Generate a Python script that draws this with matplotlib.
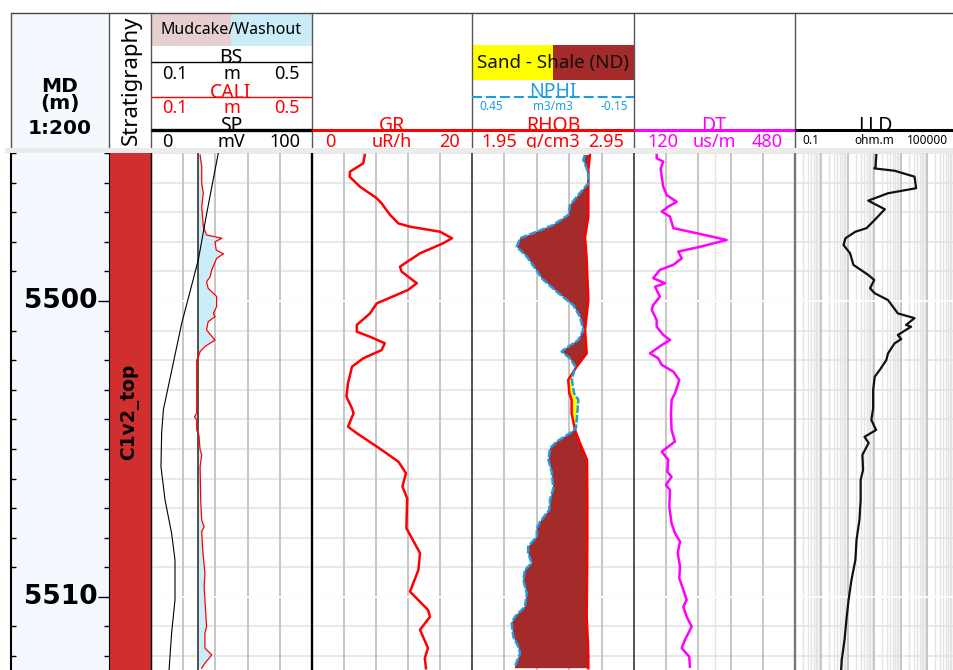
import numpy as np
import matplotlib.pyplot as plt
from matplotlib.patches import Rectangle

depth_top, depth_base = 5495.0, 5512.47
md_labels = [5500, 5510]
zone_name = "C1v2_top"
bit_size = 0.2159  # m (8.5 in)

cali_depth = [5495.07, 5495.46, 5496.02, 5496.36, 5496.81, 5497.49, 5497.77, 5497.88, 5498.00, 5498.28,
              5498.41, 5498.56, 5498.95, 5499.18, 5499.35, 5499.57, 5499.85, 5500.19, 5500.42, 5500.53,
              5500.70, 5500.98, 5501.32, 5501.54, 5501.71, 5501.88, 5502.00, 5503.79, 5503.91, 5504.02,
              5504.36, 5504.53, 5505.03, 5505.20, 5505.60, 5506.72, 5507.40, 5507.63, 5507.79, 5508.41,
              5509.20, 5509.65, 5510.10, 5511.00, 5511.23, 5511.73, 5511.96, 5512.24, 5512.41]
cali = [0.222, 0.226, 0.226, 0.230, 0.226, 0.230, 0.238, 0.276, 0.259, 0.262,
        0.280, 0.263, 0.251, 0.247, 0.238, 0.242, 0.263, 0.263, 0.255, 0.259,
        0.242, 0.238, 0.259, 0.234, 0.222, 0.218, 0.2135, 0.2135, 0.208, 0.2135,
        0.2135, 0.219, 0.222, 0.226, 0.222, 0.2235, 0.226, 0.232, 0.226, 0.2285,
        0.234, 0.232, 0.234, 0.238, 0.234, 0.234, 0.251, 0.234, 0.226]

sp_depth = [5495.0, 5497.04, 5498.61, 5500.75, 5503.67, 5504.47, 5505.60, 5506.72, 5507.85, 5508.75,
            5510.10, 5511.23, 5512.47]
sp = [41.8, 34.6, 29.4, 19.1, 7.7, 6.6, 6.2, 8.7, 12.8, 14.9, 14.9, 12.8, 11.2]

gr_depth = [5495.07, 5495.35, 5495.63, 5495.80, 5496.14, 5496.53, 5496.70, 5497.09, 5497.38, 5497.49,
            5497.66, 5497.88, 5498.05, 5498.39, 5498.84, 5499.01, 5499.40, 5499.63, 5500.08, 5500.42,
            5500.81, 5501.04, 5501.21, 5501.43, 5501.66, 5501.94, 5502.22, 5502.78, 5503.23, 5503.63,
            5503.79, 5504.25, 5504.47, 5504.92, 5505.43, 5505.82, 5506.27, 5506.67, 5507.68, 5508.52,
            5509.09, 5509.82, 5510.44, 5510.67, 5511.11, 5511.73, 5512.07, 5512.41]
gr = [6.6, 6.4, 4.75, 4.7, 6.0, 8.1, 8.7, 9.75, 10.8, 12.25,
      16.0, 17.5, 16.4, 13.5, 11.0, 11.2, 13.1, 12.0, 8.1, 7.25,
      5.6, 5.6, 7.25, 9.1, 8.7, 6.4, 5.0, 4.5, 4.3, 5.0,
      5.2, 4.5, 5.6, 8.1, 10.8, 11.75, 11.3, 11.9, 11.8, 13.5,
      13.3, 12.25, 14.5, 14.75, 13.5, 14.5, 14.1, 14.25]

rhob_depth = [5495.07, 5495.57, 5496.02, 5497.15, 5497.83, 5498.61, 5499.97, 5500.98, 5501.77, 5502.22,
              5502.67, 5503.12, 5503.34, 5503.79, 5504.36, 5504.81, 5505.37, 5506.72, 5508.00, 5509.50,
              5510.67, 5511.50, 5512.02, 5512.41]
rhob = [2.678, 2.668, 2.668, 2.668, 2.648, 2.658, 2.668, 2.648, 2.658, 2.596,
        2.544, 2.551, 2.565, 2.565, 2.586, 2.617, 2.660, 2.662, 2.662, 2.660,
        2.658, 2.665, 2.668, 2.668]

nphi_depth = [5495.07, 5495.24, 5495.46, 5495.69, 5496.02, 5496.48, 5496.76, 5497.09, 5497.43, 5497.66,
              5497.88, 5498.17, 5498.50, 5499.06, 5499.23, 5499.69, 5500.14, 5500.53, 5500.98, 5501.32,
              5501.66, 5501.71, 5501.94, 5502.20, 5502.67, 5503.12, 5503.34, 5503.79, 5504.30, 5504.47,
              5504.75, 5504.98, 5505.37, 5505.77, 5506.33, 5506.72, 5507.06, 5507.46, 5507.68, 5507.96,
              5508.30, 5508.52, 5508.86, 5509.09, 5509.43, 5509.88, 5510.33, 5510.67, 5510.89, 5511.34,
              5511.68, 5511.90, 5512.36]
nphi = [0.032, 0.038, 0.028, 0.019, 0.019, 0.062, 0.087, 0.093, 0.149, 0.210,
        0.272, 0.284, 0.247, 0.204, 0.192, 0.136, 0.075, 0.050, 0.038, 0.056,
        0.112, 0.118, 0.087, 0.068, 0.080, 0.072, 0.056, 0.060, 0.065, 0.087,
        0.136, 0.161, 0.167, 0.155, 0.149, 0.161, 0.164, 0.198, 0.210, 0.210,
        0.242, 0.242, 0.229, 0.254, 0.260, 0.247, 0.254, 0.291, 0.303, 0.297,
        0.279, 0.272, 0.291]

dt_depth = [5495.07, 5495.18, 5495.29, 5495.52, 5495.80, 5496.14, 5496.42, 5496.65, 5496.81, 5496.98,
            5497.15, 5497.54, 5497.71, 5497.94, 5498.17, 5498.33, 5498.56, 5498.78, 5498.95, 5499.23,
            5499.40, 5499.52, 5499.85, 5500.14, 5500.30, 5500.64, 5500.87, 5501.15, 5501.32, 5501.49,
            5501.77, 5501.94, 5502.16, 5502.39, 5502.67, 5503.12, 5503.34, 5503.79, 5504.36, 5504.75,
            5505.09, 5505.37, 5505.77, 5505.94, 5506.22, 5506.39, 5506.95, 5507.51, 5507.85, 5508.13,
            5508.52, 5508.98, 5509.37, 5509.76, 5510.10, 5510.33, 5510.67, 5511.00, 5511.45, 5511.73,
            5512.02, 5512.36]
dt = [170.7, 170.7, 185.5, 179.7, 181.9, 185.5, 193.0, 215.5, 196.7, 182.0,
      200.5, 208.0, 260.0, 327.0, 267.6, 219.0, 226.7, 208.0, 178.0, 163.0,
      189.3, 167.0, 178.0, 163.0, 159.6, 170.7, 170.7, 185.5, 200.5, 182.0,
      155.8, 174.3, 182.0, 208.0, 221.3, 211.7, 204.2, 202.7, 204.0, 211.7,
      182.0, 196.7, 194.5, 204.0, 191.5, 200.5, 199.0, 204.0, 211.7, 222.9,
      217.7, 222.9, 221.3, 230.3, 237.8, 230.3, 237.8, 249.0, 234.0, 226.7,
      243.6, 245.0]

lld_depth = [5495.07, 5495.46, 5495.52, 5495.60, 5495.80, 5496.19, 5496.36, 5496.61, 5496.90, 5497.26,
             5497.54, 5497.66, 5497.88, 5498.11, 5498.39, 5498.78, 5499.12, 5499.29, 5499.57, 5499.74,
             5499.97, 5500.42, 5500.58, 5500.81, 5500.87, 5501.15, 5501.29, 5501.43, 5501.77, 5501.99,
             5502.33, 5502.56, 5503.01, 5503.63, 5504.02, 5504.36, 5504.59, 5504.80, 5505.20, 5505.71,
             5506.05, 5506.72, 5507.40, 5508.07, 5508.75, 5509.43, 5510.10, 5510.78, 5511.45, 5512.13,
             5512.47]
lld = [117, 110, 98, 575, 3240, 3715, 324, 58, 245, 102,
       50, 19, 8, 6.8, 12, 16, 58, 98, 68, 102,
       324, 760, 3240, 1550, 2400, 760, 1020, 575, 324, 282,
       158, 102, 89, 89, 76, 115, 42, 60, 35, 37,
       30, 30, 27, 21, 19, 13.5, 10.5, 8.7, 7.4, 5.8,
       5.5]

# ---------------- layout (pixels) ----------------
W, H = 954, 670
BODY_TOP = 153
plt.rcParams['font.family'] = ['Noto Sans', 'DejaVu Sans']
fig = plt.figure(figsize=(W / 100, H / 100), dpi=100)

RED, MAG, BLUE = '#ff0000', '#ff00ff', '#1e9de6'
BROWN, YELLOW = '#a52a2a', '#ffff00'
PINK, WASH = '#e8cfcf', '#cbedf9'
MD_BG = '#f5f9ff'


def box(x0, x1, y0, y1):
    return [x0 / W, 1 - y1 / H, (x1 - x0) / W, (y1 - y0) / H]


grid_depths = np.arange(np.ceil(depth_top), depth_base)


def track(x0, x1, xlim, grid, border='k', bw=1.0, log=False, light=()):
    ax = fig.add_axes(box(x0, x1, BODY_TOP, H))
    ax.patch.set_visible(False)
    if log:
        ax.set_xscale('log')
    ax.set_xlim(*xlim)
    ax.set_ylim(depth_base, depth_top)
    for s in ('top', 'bottom', 'right'):
        ax.spines[s].set_visible(False)
    ax.spines['left'].set_color(border)
    ax.spines['left'].set_linewidth(bw)
    ax.tick_params(which='both', left=False, bottom=False, labelleft=False, labelbottom=False)
    for d in grid_depths:
        ax.axhline(d, color='#e6e6e6', lw=1.3, zorder=0.3)
    for g in light:
        ax.axvline(g, color='#e4e4e4', lw=1.0, zorder=0.4)
    for g in grid:
        ax.axvline(g, color='#c6c6c6', lw=1.4, zorder=0.5)
    for d in md_labels:
        ax.axhline(d, color='white', lw=1.3, zorder=0.6)
    return ax


# depth column
md = fig.add_axes(box(11, 109, BODY_TOP, H))
md.set_facecolor(MD_BG)
md.set_xlim(0, 1)
md.set_ylim(depth_base, depth_top)
md.set_xticks([])
md.set_yticks(md_labels)
md.set_yticks(grid_depths, minor=True)
md.tick_params(axis='y', which='major', left=False, right=True, direction='in',
               length=8, width=1, labelleft=False)
md.tick_params(axis='y', which='minor', left=True, right=True, direction='in', length=3.6, width=1)
for s in ('top', 'bottom', 'right'):
    md.spines[s].set_visible(False)
md.spines['left'].set_linewidth(1.5)
for d in md_labels:
    md.text(0.88, d, str(d), transform=md.get_yaxis_transform(), ha='right', va='center',
            fontsize=19, fontweight='bold', family='DejaVu Sans')

# stratigraphy column
st = fig.add_axes(box(109, 151, BODY_TOP, H))
st.set_xlim(0, 1)
st.set_ylim(depth_base, depth_top)
st.axhspan(depth_top, depth_base, color='#d12f2f', zorder=0)
st.set_xticks([])
st.set_yticks([])
for s in ('top', 'bottom'):
    st.spines[s].set_visible(False)
st.text(0.5, (depth_top + depth_base) / 2, zone_name, rotation=90, ha='center', va='center',
        fontsize=13.5, fontweight='bold', family='DejaVu Sans')

# caliper / SP
t1 = track(151, 312, (0.1, 0.5), [0.18, 0.26, 0.34, 0.42])
cd = np.array(cali_depth)
cv = np.array(cali)
t1.fill_betweenx(cd, bit_size, cv, where=cv >= bit_size, color=WASH, interpolate=True, lw=0, zorder=1)
t1.fill_betweenx(cd, bit_size, cv, where=cv < bit_size, color=PINK, interpolate=True, lw=0, zorder=1)
t1.plot([bit_size, bit_size], [depth_top, depth_base], color='#444444', lw=1.3, zorder=2)
t1.plot(cali, cali_depth, color=RED, lw=0.9, zorder=3)
spx = t1.twiny()
spx.set_xlim(0, 100)
spx.axis('off')
spx.plot(sp, sp_depth, color='k', lw=0.8)

# gamma ray
t2 = track(312, 472, (0, 20), [4, 8, 12, 16], bw=1.7)
t2.plot(gr, gr_depth, color=RED, lw=1.8)

# density / neutron
t3 = track(472, 634, (1.95, 2.95), [2.15, 2.35, 2.55, 2.75], border='#333333', bw=1.2)
dd = np.unique(np.concatenate([rhob_depth, nphi_depth]))
rh = np.interp(dd, rhob_depth, rhob)
nphi_on_rhob = 1.95 + (0.45 - np.interp(dd, nphi_depth, nphi)) / 0.6 * 1.0
t3.fill_betweenx(dd, nphi_on_rhob, rh, where=nphi_on_rhob <= rh, color=BROWN, interpolate=True, lw=0, zorder=1)
t3.fill_betweenx(dd, nphi_on_rhob, rh, where=nphi_on_rhob > rh, color=YELLOW, interpolate=True, lw=0, zorder=1)
t3.plot(rhob, rhob_depth, color=RED, lw=1.8, zorder=3)
nx = t3.twiny()
nx.set_xlim(0.45, -0.15)
nx.axis('off')
nx.plot(nphi, nphi_depth, color=BLUE, lw=1.8, dashes=(3, 0.8))

# sonic
t4 = track(634, 795, (120, 480), [192, 264, 336, 408], border='#333333', bw=1.2, light=[300])
t4.plot(dt, dt_depth, color=MAG, lw=1.8)

# resistivity
decades = [1, 10, 100, 1000, 10000]
minors = [k * 10.0 ** e for e in range(-1, 5) for k in range(2, 10)]
t5 = track(795, 954, (0.1, 1e5), decades, border='#777777', bw=1.7, log=True, light=minors)
t5.plot(lld, lld_depth, color='#111111', lw=1.6)

# ---------------- header ----------------
hd = fig.add_axes([0, 1 - BODY_TOP / H, 1, BODY_TOP / H])
hd.set_xlim(0, W)
hd.set_ylim(BODY_TOP, 0)
hd.axis('off')


def rect(x0, y0, x1, y1, color, z=0):
    hd.add_patch(Rectangle((x0, y0), x1 - x0, y1 - y0, facecolor=color, edgecolor='none', zorder=z))


def hline(y, x0, x1, **kw):
    hd.plot([x0, x1], [y, y], solid_capstyle='butt', **kw)


def scale_row(x0, x1, y, lo, unit, hi, color, fs, il, ir):
    hd.text(x0 + il, y, lo, ha='left', va='baseline', color=color, fontsize=fs)
    hd.text((x0 + x1) / 2, y, unit, ha='center', va='baseline', color=color, fontsize=fs)
    hd.text(x1 - ir, y, hi, ha='right', va='baseline', color=color, fontsize=fs)


rect(11, 13, 109, 148, MD_BG)
rect(5, 148, W, BODY_TOP, '#ebebeb', z=5)
hline(13, 11, W, color='#444444', lw=1)
for x in (11, 109, 151, 312, 472, 634, 795):
    hd.plot([x, x], [13, 148], color='#555555', lw=1)

hd.text(60, 87, 'MD', ha='center', va='center', fontsize=14.5, fontweight='bold', family='DejaVu Sans')
hd.text(60, 104, '(m)', ha='center', va='center', fontsize=14.5, fontweight='bold', family='DejaVu Sans')
hd.text(60, 129, '1:200', ha='center', va='center', fontsize=14.5, fontweight='bold', family='DejaVu Sans')
hd.text(131, 80, 'Stratigraphy', rotation=90, ha='center', va='center', fontsize=16)

# caliper header
rect(151, 13, 231, 46, PINK)
rect(231, 13, 312, 46, WASH)
hd.text(231, 30, 'Mudcake/Washout', ha='center', va='center', fontsize=11.5)
NAME_FS, SCALE_FS = 14, 13
hd.text(231, 63, 'BS', ha='center', va='baseline', fontsize=NAME_FS)
hline(62, 151, 312, color='k', lw=1)
scale_row(151, 312, 79, '0.1', 'm', '0.5', 'k', SCALE_FS, 11, 12)
hd.text(231, 98, 'CALI', ha='center', va='baseline', fontsize=NAME_FS, color=RED)
hline(97, 151, 312, color=RED, lw=1)
scale_row(151, 312, 113, '0.1', 'm', '0.5', RED, SCALE_FS, 11, 12)
hd.text(231, 131, 'SP', ha='center', va='baseline', fontsize=NAME_FS)
hline(130, 151, 312, color='k', lw=2.4)
scale_row(151, 312, 147, '0', 'mV', '100', 'k', SCALE_FS, 11, 12)

# gamma ray header
hd.text(392, 131, 'GR', ha='center', va='baseline', fontsize=NAME_FS, color=RED)
hline(130, 312, 472, color=RED, lw=2.2)
scale_row(312, 472, 147, '0', 'uR/h', '20', RED, SCALE_FS, 13, 12)

# density / neutron header
rect(472, 45, 553, 80, YELLOW)
rect(553, 45, 634, 80, BROWN)
hd.text(553, 63, 'Sand - Shale (ND)', ha='center', va='center', fontsize=13.5, color='#111111')
hd.text(553, 97, 'NPHI', ha='center', va='baseline', fontsize=NAME_FS, color=BLUE)
hline(97, 472, 634, color=BLUE, lw=1.5, dashes=(4.8, 1.9))
scale_row(472, 634, 110, '0.45', 'm3/m3', '-0.15', BLUE, 8.5, 7, 6)
hd.text(553, 131, 'RHOB', ha='center', va='baseline', fontsize=NAME_FS, color=RED)
hline(130, 472, 634, color=RED, lw=2.2)
scale_row(472, 634, 147, '1.95', 'g/cm3', '2.95', RED, SCALE_FS, 9, 10)

# sonic header
hd.text(714, 131, 'DT', ha='center', va='baseline', fontsize=NAME_FS, color=MAG)
hline(130, 634, 795, color=MAG, lw=2.2)
scale_row(634, 795, 147, '120', 'us/m', '480', MAG, SCALE_FS, 13, 12)

# resistivity header
hd.text(875, 131, 'LLD', ha='center', va='baseline', fontsize=NAME_FS, color='k')
hline(130, 795, W, color='k', lw=2.2)
scale_row(795, W, 144, '0.1', 'ohm.m', '100000', 'k', 8.5, 7, 6)

fig.savefig('out.png', dpi=100)
